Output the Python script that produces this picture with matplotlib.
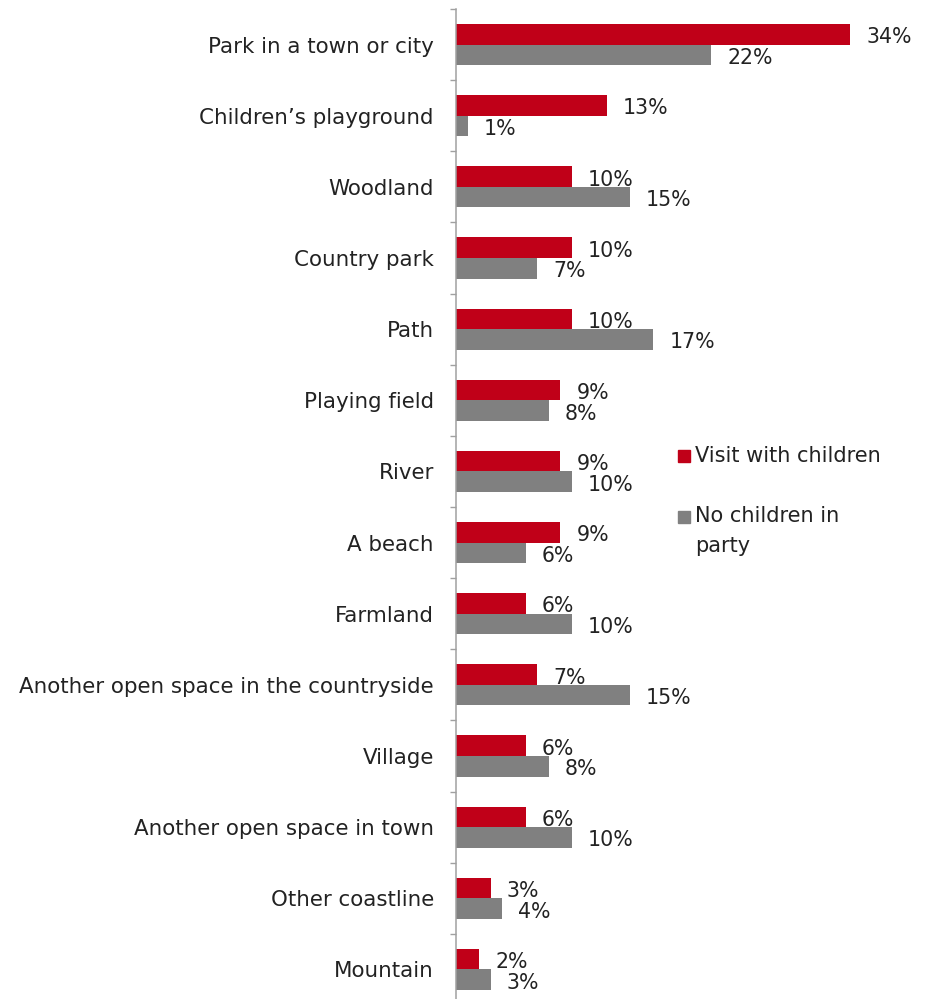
import matplotlib.pyplot as plt
import numpy as np
from matplotlib.patches import Rectangle

# Places visited, share of visits (%)
categories = ['Park in a town or city', 'Children\u2019s playground', 'Woodland',
              'Country park', 'Path', 'Playing field', 'River', 'A beach',
              'Farmland', 'Another open space in the countryside', 'Village',
              'Another open space in town', 'Other coastline', 'Mountain']
with_children = [34, 13, 10, 10, 10, 9, 9, 9, 6, 7, 6, 6, 3, 2]
no_children = [22, 1, 15, 7, 17, 8, 10, 6, 10, 15, 8, 10, 4, 3]
series_names = ['Visit with children', 'No children in\nparty']

red = '#C00018'
grey = '#808080'
txt = '#222222'

W, H = 942, 999
fig = plt.figure(figsize=(W / 100, H / 100), dpi=100)
ax = fig.add_axes([456 / W, 1 - 1005 / H, 464 / W, 996 / H])

y = np.arange(len(categories))
h = 0.29
ax.barh(y - h / 2, with_children, height=h, color=red)
ax.barh(y + h / 2, no_children, height=h, color=grey)

# value labels just past the bar ends
for yi, v in zip(y - h / 2, with_children):
    ax.annotate(f'{v}%', (v, yi), xytext=(16, -3), textcoords='offset pixels',
                va='center', ha='left', fontsize=14.8, color=txt)
for yi, v in zip(y + h / 2, no_children):
    ax.annotate(f'{v}%', (v, yi), xytext=(16, -3), textcoords='offset pixels',
                va='center', ha='left', fontsize=14.8, color=txt)

ax.set_xlim(0, 40)
ax.set_ylim(len(categories) - 0.5, -0.5)

ax.set_yticks(y)
ax.set_yticklabels(categories, fontsize=15.4, color=txt)
ax.set_yticks(np.arange(-0.5, len(categories), 1), minor=True)
ax.tick_params(axis='y', which='major', length=0, pad=16)
ax.tick_params(axis='y', which='minor', length=4.3, width=1, color='#A0A0A0', direction='out')
ax.set_xticks([])

for s in ['top', 'right', 'bottom']:
    ax.spines[s].set_visible(False)
ax.spines['left'].set_color('#A0A0A0')
ax.spines['left'].set_linewidth(1.1)

# legend: square key beside the first line of each entry,
# text placed by the baseline of its last line
for (top, base, name, col) in [(450, 462, series_names[0], red),
                               (511, 552, series_names[1], grey)]:
    fig.add_artist(Rectangle((678 / W, 1 - (top + 12) / H), 12 / W, 12 / H,
                             transform=fig.transFigure, color=col))
    fig.text(695 / W, 1 - base / H, name, transform=fig.transFigure,
             ha='left', va='baseline', fontsize=15, color=txt, linespacing=1.62)

fig.savefig('out.png', dpi=100)
